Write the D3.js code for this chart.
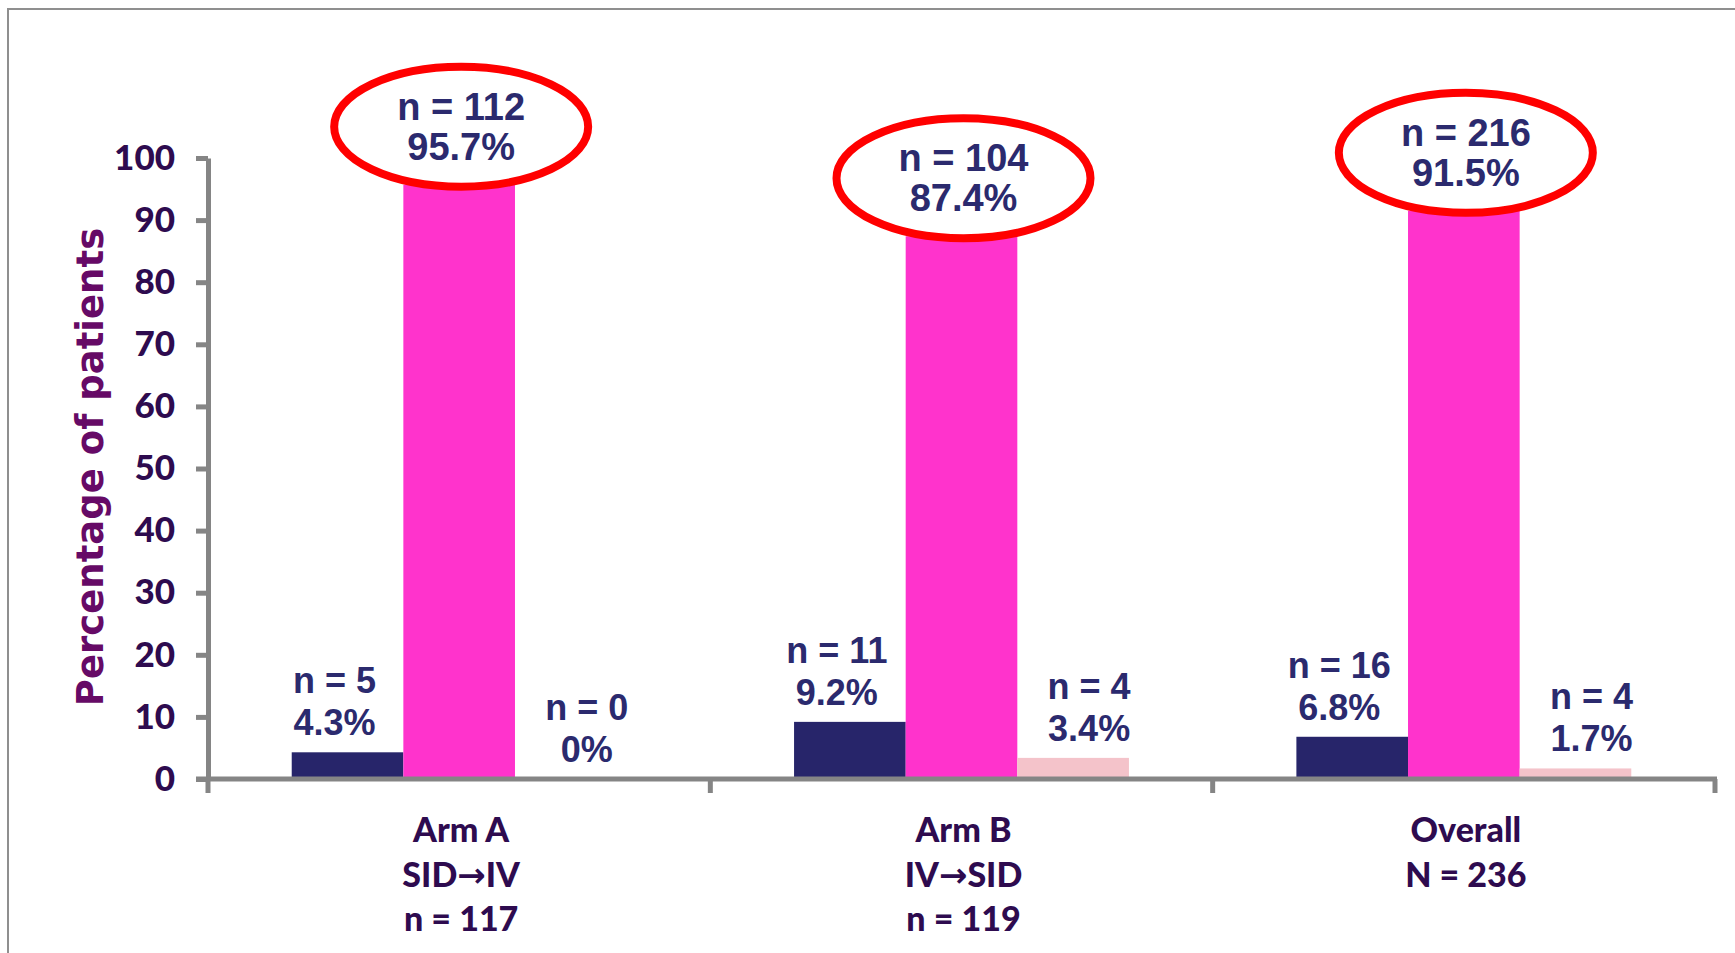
<!DOCTYPE html>
<html>
<head>
<meta charset="utf-8">
<script src="https://cdn.jsdelivr.net/npm/d3@7/dist/d3.min.js"></script>
<style>
  html, body { margin: 0; padding: 0; background: #ffffff; }
  svg { display: block; }
</style>
</head>
<body>
<svg id="chart" width="1735" height="953"></svg>
<script>
// Treatment arms and the three outcome series (percentage of patients)
const categories = ["Arm A", "Arm B", "Overall"];
const categoryLines = [
  [["Arm A"], ["SID", "\u2192", "IV"], ["n = 117"]],
  [["Arm B"], ["IV", "\u2192", "SID"], ["n = 119"]],
  [["Overall"], ["N = 236"]]
];
const seriesNames = ["low", "mid", "high"];
const lowPct  = [4.3, 9.2, 6.8];
const midPct  = [95.7, 87.4, 91.5];
const highPct = [0, 3.4, 1.7];
const lowN  = [5, 11, 16];
const midN  = [112, 104, 216];
const highN = [0, 4, 4];
const pctLabels = {
  low:  ["4.3%", "9.2%", "6.8%"],
  mid:  ["95.7%", "87.4%", "91.5%"],
  high: ["0%", "3.4%", "1.7%"]
};
const yTicks = [0, 10, 20, 30, 40, 50, 60, 70, 80, 90, 100];

const seriesValues = { low: lowPct, mid: midPct, high: highPct };
const seriesCounts = { low: lowN, mid: midN, high: highN };
const seriesColor = { low: "#27256a", mid: "#ff33cc", high: "#f4c3ca" };
const labelShift = { low: -13, mid: 2, high: 16 };

const svg = d3.select("#chart");

// outer frame
svg.append("rect")
  .attr("x", 8).attr("y", 9)
  .attr("width", 1800).attr("height", 1000)
  .attr("fill", "none").attr("stroke", "#8f8f8f").attr("stroke-width", 2);

const plotLeft = 208, plotRight = 1715, plotTop = 158, plotBottom = 779;

const x0 = d3.scaleBand().domain(categories).range([plotLeft, plotRight]).padding(0);
const bw = x0.bandwidth();
const x1 = d3.scaleBand().domain(seriesNames).range([bw / 6, bw * 5 / 6]).padding(0);
const y = d3.scaleLinear().domain([0, 100]).range([plotBottom, plotTop]);

const axisColor = "#858585";
const labelFont = "'Liberation Sans', Arial, sans-serif";
const axisFont = "Lato, 'Liberation Sans', sans-serif";

// bars
const rows = categories.map((c, i) => seriesNames.map(s => ({
  cat: c, i, s, v: seriesValues[s][i], n: seriesCounts[s][i], pct: pctLabels[s][i]
})));

const groups = svg.append("g").selectAll("g").data(rows).join("g")
  .attr("transform", d => `translate(${x0(d[0].cat)},0)`);

groups.selectAll("rect").data(d => d).join("rect")
  .attr("x", d => x1(d.s))
  .attr("width", x1.bandwidth())
  .attr("y", d => y(d.v))
  .attr("height", d => y(0) - y(d.v))
  .attr("fill", d => seriesColor[d.s]);

// y axis
const yAxis = d3.axisLeft(y).tickValues(yTicks).tickSize(12).tickSizeOuter(0).tickPadding(21);
const gy = svg.append("g").attr("transform", `translate(${plotLeft},0)`).call(yAxis);
gy.select(".domain").attr("stroke", axisColor).attr("stroke-width", 5);
gy.selectAll(".tick line").attr("stroke", axisColor).attr("stroke-width", 5);
gy.selectAll(".tick text")
  .attr("fill", "#2e0b4f")
  .attr("font-family", axisFont)
  .attr("font-weight", 900)
  .attr("font-size", 35);

// x axis baseline with boundary ticks between categories
const bounds = categories.map(c => x0(c)).concat([x0(categories[categories.length - 1]) + bw]);
svg.append("line")
  .attr("x1", plotLeft - 12).attr("x2", plotRight + 2)
  .attr("y1", y(0)).attr("y2", y(0))
  .attr("stroke", axisColor).attr("stroke-width", 5);
svg.append("g").selectAll("line").data(bounds).join("line")
  .attr("x1", d => d).attr("x2", d => d)
  .attr("y1", y(0)).attr("y2", y(0) + 14)
  .attr("stroke", axisColor).attr("stroke-width", 5);

// category labels, one text element per line
const catG = svg.append("g").selectAll("g").data(categories).join("g")
  .attr("transform", c => `translate(${x0(c) + bw / 2 + 2},0)`);
catG.selectAll("text").data((c, i) => categoryLines[i]).join("text")
  .attr("x", 0)
  .attr("y", (d, k) => 842 + k * 44.5)
  .attr("text-anchor", "middle")
  .attr("fill", "#2e0b4f")
  .attr("font-family", axisFont)
  .attr("font-weight", 900)
  .attr("font-size", 34)
  .selectAll("tspan").data(d => d).join("tspan")
  .attr("font-family", t => t === "\u2192" ? "'DejaVu Sans', sans-serif" : null)
  .attr("font-weight", t => t === "\u2192" ? "bold" : null)
  .attr("font-size", t => t === "\u2192" ? 34 : null)
  .text(t => t);

// y axis title
svg.append("text")
  .attr("transform", `translate(103,467) rotate(-90)`)
  .attr("text-anchor", "middle")
  .attr("fill", "#660a66")
  .attr("font-family", "Verdana, 'DejaVu Sans', sans-serif")
  .attr("font-weight", "bold")
  .attr("font-size", 37)
  .text("Percentage of patients");

// value labels for the short bars
const small = rows.flat().filter(d => d.s !== "mid");
const smallLabels = svg.append("g").selectAll("text").data(small).join("text")
  .attr("text-anchor", "middle")
  .attr("fill", "#2b2a6e")
  .attr("font-family", labelFont)
  .attr("font-weight", "bold")
  .attr("font-size", 36);
smallLabels.each(function (d) {
  const cx = x0(d.cat) + x1(d.s) + x1.bandwidth() / 2 + labelShift[d.s];
  const base = y(d.v) - 17;
  const t = d3.select(this);
  t.append("tspan").attr("x", cx).attr("y", base - 42).text(`n = ${d.n}`);
  t.append("tspan").attr("x", cx).attr("y", base).text(d.pct);
});

// highlighted labels for the tall bars, circled in red
const big = rows.flat().filter(d => d.s === "mid");
const bigG = svg.append("g").selectAll("g").data(big).join("g")
  .attr("transform", d => `translate(${x0(d.cat) + x1(d.s) + x1.bandwidth() / 2 + labelShift[d.s]},${y(d.v) - 58})`);
bigG.append("ellipse")
  .attr("rx", 127).attr("ry", 60)
  .attr("fill", "#ffffff")
  .attr("stroke", "#ff0000")
  .attr("stroke-width", 8);
const bigText = bigG.append("text")
  .attr("text-anchor", "middle")
  .attr("fill", "#2b2a6e")
  .attr("font-family", labelFont)
  .attr("font-weight", "bold")
  .attr("font-size", 38);
bigText.append("tspan").attr("x", 0).attr("y", -7).text(d => `n = ${d.n}`);
bigText.append("tspan").attr("x", 0).attr("y", 33).text(d => d.pct);
</script>
</body>
</html>
